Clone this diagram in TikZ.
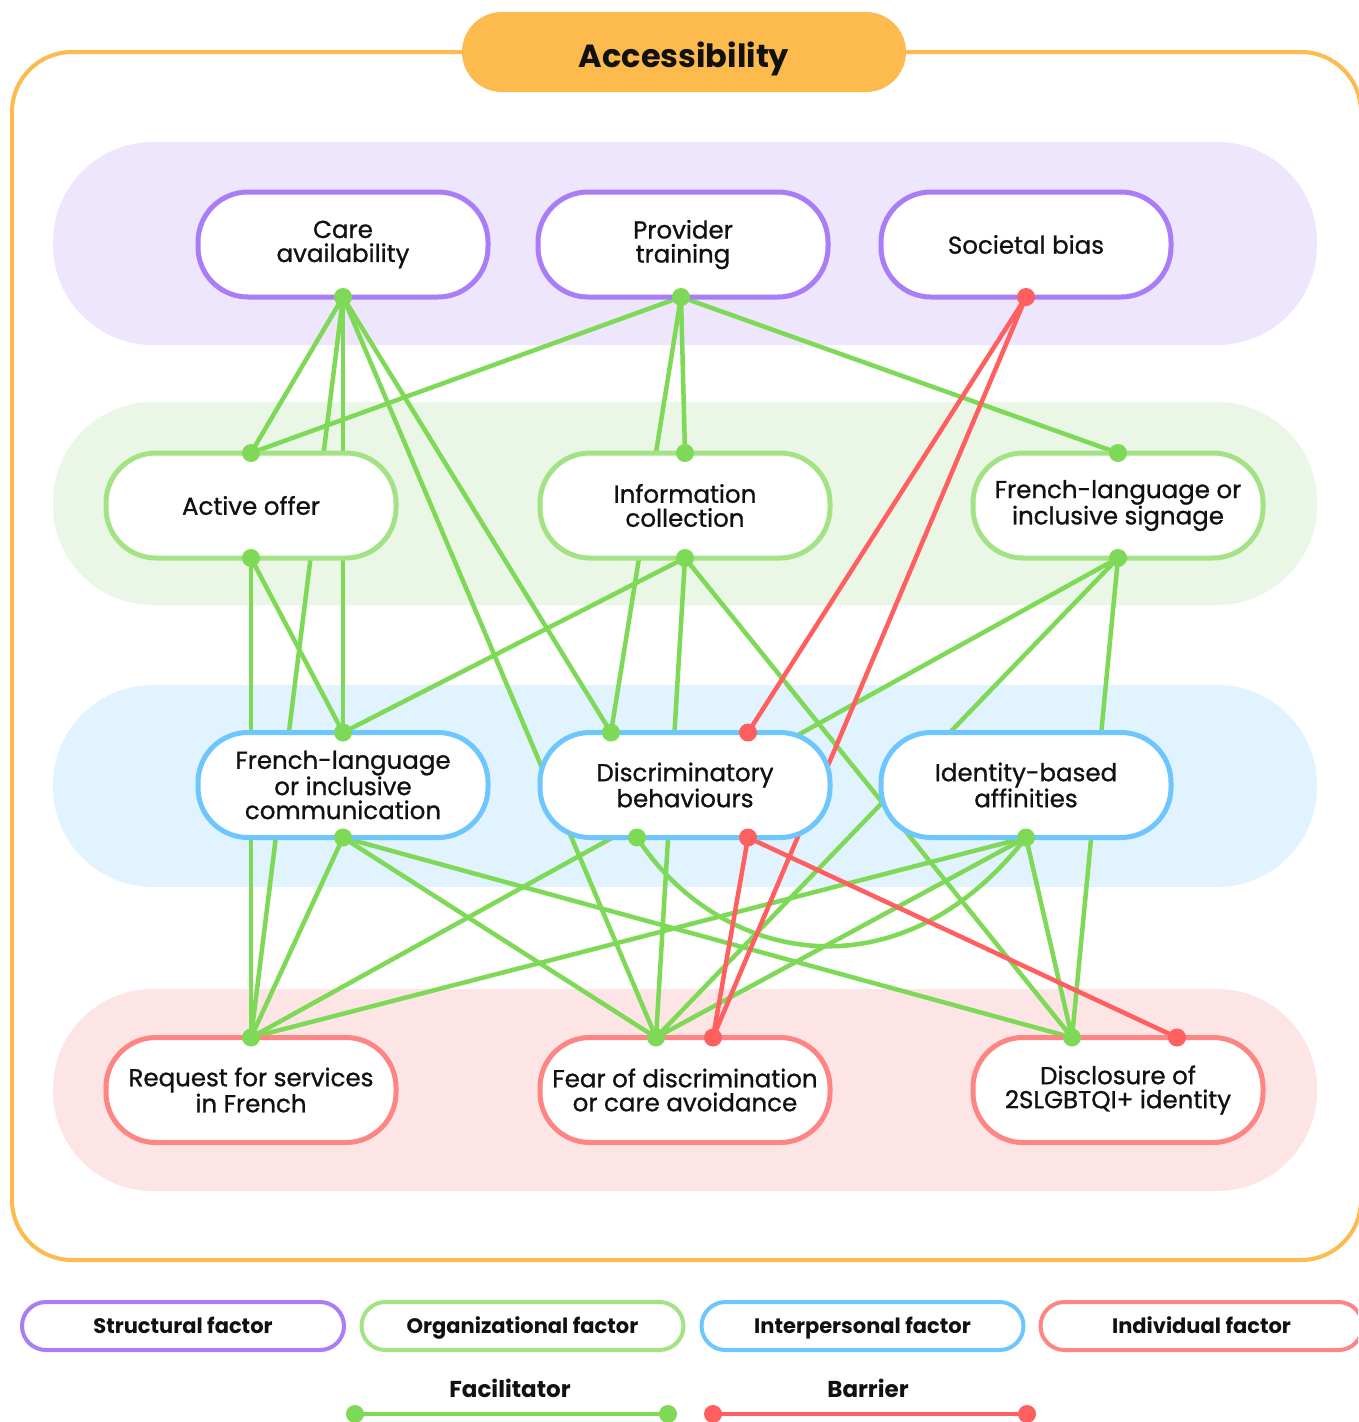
\documentclass[tikz,border=0pt]{standalone}
\usepackage{fontspec}
\setmainfont{Poppins}
\newfontfamily\medfont{Poppins}[FakeBold=0.9]
\usetikzlibrary{calc}
\definecolor{gline}{HTML}{7ED957}
\definecolor{rline}{HTML}{FF5F5F}
\definecolor{purB}{HTML}{A97CF8}
\definecolor{grnB}{HTML}{A3E386}
\definecolor{bluB}{HTML}{6EC6FF}
\definecolor{redB}{HTML}{FF8585}
\definecolor{purBand}{HTML}{EEE6FD}
\definecolor{grnBand}{HTML}{EBF7E6}
\definecolor{bluBand}{HTML}{E1F3FE}
\definecolor{redBand}{HTML}{FDE5E6}
\definecolor{orng}{HTML}{FDBA4D}
\definecolor{txt}{HTML}{111111}
\pgfdeclarelayer{bg}
\pgfdeclarelayer{edges}
\pgfdeclarelayer{front}
\pgfsetlayers{bg,edges,main,front}
\begin{document}
\begin{tikzpicture}[x=1pt,y=-1pt,
  factor/.style={draw, line width=5pt, fill=white, rounded corners=50pt,
    minimum width=290pt, minimum height=105pt, outer sep=0pt, inner sep=0pt,
    align=center, text=txt, font=\medfont\fontsize{24.5}{24}\selectfont},
  legendbox/.style={draw, line width=4pt, fill=white, rounded corners=24pt,
    minimum width=322pt, minimum height=48pt, outer sep=0pt, inner sep=0pt,
    text height=19pt, text depth=4pt,
    text=txt, font=\bfseries\fontsize{21}{24}\selectfont},
  band/.style={rounded corners=100pt},
  fac/.style={gline, line width=4.5pt},
  bar/.style={rline, line width=4.5pt},
  gdot/.style={fill=gline},
  rdot/.style={fill=rline}
]
\useasboundingbox (0,0) rectangle (1358,1422);
\clip (0,0) rectangle (1358,1422);

% frame and bands
\begin{pgfonlayer}{bg}
  \fill[white] (0,0) rectangle (1358,1422);
  \draw[orng, line width=4pt, rounded corners=60pt] (12,52) rectangle (1361,1260);
  \fill[purBand, band] (53,142) rectangle (1317,345);
  \fill[grnBand, band] (53,402) rectangle (1317,605);
  \fill[bluBand, band] (53,685) rectangle (1317,887);
  \fill[redBand, band] (53,989) rectangle (1317,1191);
\end{pgfonlayer}

\node[fill=orng, rounded corners=40pt, minimum width=444pt, minimum height=80pt,
  text height=30pt, text depth=0pt,
  text=txt, font=\bfseries\fontsize{32}{34}\selectfont] (title) at (684,52) {Accessibility};

% structural
\node[factor, draw=purB] (care) at (343,244.5) {Care\\availability};
\node[factor, draw=purB] (prov) at (683,244.5) {Provider\\training};
\node[factor, draw=purB] (soc)  at (1026,244.5) {Societal bias};
% organizational
\node[factor, draw=grnB] (ao)   at (251,505.5) {Active offer};
\node[factor, draw=grnB] (info) at (685,505.5) {Information\\collection};
\node[factor, draw=grnB] (sign) at (1118,505.5) {French-language or\\inclusive signage};
% interpersonal
\node[factor, draw=bluB] (flc)  at (343,785) {French-language\\or inclusive\\communication};
\node[factor, draw=bluB] (disc) at (685,785) {Discriminatory\\behaviours};
\node[factor, draw=bluB] (iden) at (1026,785) {Identity-based\\affinities};
% individual
\node[factor, draw=redB] (req)  at (251,1090) {Request for services\\in French};
\node[factor, draw=redB] (fear) at (685,1090) {Fear of discrimination\\or care avoidance};
\node[factor, draw=redB] (dis)  at (1118,1090) {Disclosure of\\2SLGBTQI+ identity};

% anchor points
\coordinate (care-s) at (care.south);
\coordinate (prov-s) at ($(prov.south)+(-2,0)$);
\coordinate (soc-s)  at (soc.south);
\coordinate (ao-n)   at (ao.north);
\coordinate (ao-s)   at (ao.south);
\coordinate (info-n) at (info.north);
\coordinate (info-s) at (info.south);
\coordinate (sign-n) at (sign.north);
\coordinate (sign-s) at (sign.south);
\coordinate (flc-n)  at (flc.north);
\coordinate (flc-s)  at (flc.south);
\coordinate (disc-ng) at ($(disc.north)+(-74,0)$);
\coordinate (disc-nr) at ($(disc.north)+(63,0)$);
\coordinate (disc-sg) at ($(disc.south)+(-48,0)$);
\coordinate (disc-sr) at ($(disc.south)+(63,0)$);
\coordinate (iden-s) at (iden.south);
\coordinate (req-n)  at (req.north);
\coordinate (fear-ng) at ($(fear.north)+(-29,0)$);
\coordinate (fear-nr) at ($(fear.north)+(28,0)$);
\coordinate (dis-ng) at ($(dis.north)+(-46,0)$);
\coordinate (dis-nr) at ($(dis.north)+(59,0)$);

\begin{pgfonlayer}{edges}
  % facilitators
  \draw[fac] (care-s) -- (ao-n);
  \draw[fac] (care-s) -- (flc-n);
  \draw[fac] (care-s) -- (req-n);
  \draw[fac] (care-s) -- (disc-ng);
  \draw[fac] (care-s) -- (fear-ng);
  \draw[fac] (prov-s) -- (ao-n);
  \draw[fac] (prov-s) -- (info-n);
  \draw[fac] (prov-s) -- (disc-ng);
  \draw[fac] (prov-s) -- (sign-n);
  \draw[fac] (ao-s) -- (flc-n);
  \draw[fac] (ao-s) -- (req-n);
  \draw[fac] (info-s) -- (flc-n);
  \draw[fac] (info-s) -- (fear-ng);
  \draw[fac] (info-s) -- (dis-ng);
  \draw[fac] (sign-s) -- (req-n);
  \draw[fac] (sign-s) -- (fear-ng);
  \draw[fac] (sign-s) -- (dis-ng);
  \draw[fac] (flc-s) -- (req-n);
  \draw[fac] (flc-s) -- (fear-ng);
  \draw[fac] (flc-s) -- (dis-ng);
  \draw[fac] (disc-sg) .. controls ($(disc-sg)+(83,127)$) and ($(iden-s)+(-126,162)$) .. (iden-s);
  \draw[fac] (iden-s) -- (req-n);
  \draw[fac] (iden-s) -- (fear-ng);
  \draw[fac] (iden-s) -- (dis-ng);
  % barriers
  \draw[bar] (soc-s) -- (disc-nr);
  \draw[bar] (soc-s) -- (fear-nr);
  \draw[bar] (disc-sr) -- (fear-nr);
  \draw[bar] (disc-sr) -- (dis-nr);
\end{pgfonlayer}

\begin{pgfonlayer}{front}
  \foreach \p in {care-s,prov-s,ao-n,ao-s,info-n,info-s,sign-n,sign-s,flc-n,flc-s,
                  disc-ng,disc-sg,iden-s,req-n,fear-ng,dis-ng}
    \fill[gdot] (\p) circle (9pt);
  \foreach \p in {soc-s,disc-nr,disc-sr,fear-nr,dis-nr}
    \fill[rdot] (\p) circle (9pt);
\end{pgfonlayer}

% legend
\node[legendbox, draw=purB] (lg1) at (183,1326) {Structural factor};
\node[legendbox, draw=grnB] (lg2) at (522.5,1326) {Organizational factor};
\node[legendbox, draw=bluB] (lg3) at (862.5,1326) {Interpersonal factor};
\node[legendbox, draw=redB] (lg4) at (1201.5,1326) {Individual factor};

\node[text=txt, text height=20pt, text depth=4pt, font=\bfseries\fontsize{23}{26}\selectfont] (lfac) at (510,1389) {Facilitator};
\node[text=txt, text height=20pt, text depth=4pt, font=\bfseries\fontsize{23}{26}\selectfont] (lbar) at (868,1389) {Barrier};
\coordinate (fa) at (355,1414);
\coordinate (fb) at (668,1414);
\coordinate (ba) at (713,1414);
\coordinate (bb) at (1027,1414);
\draw[fac] (fa) -- (fb);
\fill[gdot] (fa) circle (9pt);
\fill[gdot] (fb) circle (9pt);
\draw[bar] (ba) -- (bb);
\fill[rdot] (ba) circle (9pt);
\fill[rdot] (bb) circle (9pt);
\end{tikzpicture}
\end{document}
